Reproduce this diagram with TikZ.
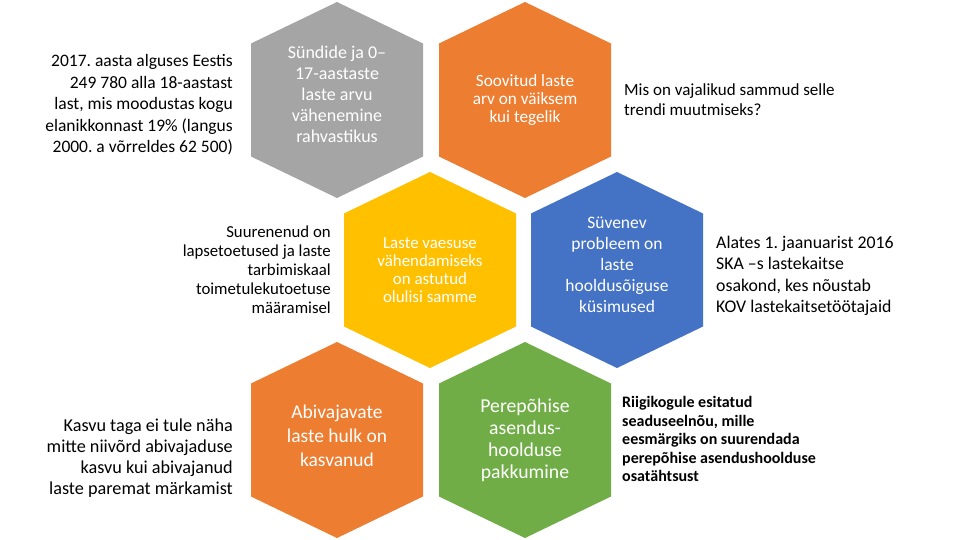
\documentclass[tikz,border=0pt]{standalone}
\usepackage{fontspec}
\setmainfont{Carlito}
\frenchspacing
\definecolor{hgray}{HTML}{A5A5A5}
\definecolor{horange}{HTML}{ED7D31}
\definecolor{hyellow}{HTML}{FFC000}
\definecolor{hblue}{HTML}{4472C4}
\definecolor{hgreen}{HTML}{70AD47}
\newcommand{\hexfill}[3]{\fill[#3] (#1,#2) ++(0,-98) -- ++(86,41.5) -- ++(0,113) -- ++(-86,41.5) -- ++(-86,-41.5) -- ++(0,-113) -- cycle;}
\tikzset{
  hextext/.style={text=white, align=center, inner sep=0pt},
  sidetext/.style={text=black, inner sep=0pt}
}
\begin{document}
\begin{tikzpicture}[x=1pt,y=-1pt]
\useasboundingbox (0,0) rectangle (960,540);
\fill[white] (0,0) rectangle (960,540);
\hexfill{337}{100}{hgray}
\hexfill{525}{100}{horange}
\hexfill{430}{270}{hyellow}
\hexfill{617}{270}{hblue}
\hexfill{337}{440}{horange}
\hexfill{525}{440}{hgreen}

\node[hextext, font=\fontsize{18}{21}\selectfont] (g) at (337,94) {Sündide ja 0--\\17-aastaste\\laste arvu\\vähenemine\\rahvastikus};
\node[hextext, font=\fontsize{17.2}{18}\selectfont] (o1) at (525,100) {Soovitud laste\\arv on väiksem\\kui tegelik};
\node[hextext, font=\fontsize{16.9}{18}\selectfont] (y) at (430,270) {Laste vaesuse\\vähendamiseks\\on astutud\\olulisi samme};
\node[hextext, font=\fontsize{17.5}{21}\selectfont] (b) at (617,265) {Süvenev\\probleem on\\laste\\hooldusõiguse\\küsimused};
\node[hextext, font=\fontsize{19.5}{24}\selectfont] (o2) at (337,436) {Abivajavate\\laste hulk on\\kasvanud};
\node[hextext, font=\fontsize{19.7}{22}\selectfont] (gr) at (525,440) {Perepõhise\\asendus-\\hoolduse\\pakkumine};

\node[sidetext, anchor=east, align=right, font=\fontsize{17.5}{21.5}\selectfont] (t1) at (233,105) {2017. aasta alguses Eestis\\249 780 alla 18-aastast\\last, mis moodustas kogu\\elanikkonnast 19\% (langus\\2000. a võrreldes 62 500)};
\node[sidetext, anchor=east, align=right, font=\fontsize{16.8}{19}\selectfont] (t2) at (331,270) {Suurenenud on\\lapsetoetused ja laste\\tarbimiskaal\\toimetulekutoetuse\\määramisel};
\node[sidetext, anchor=east, align=right, font=\fontsize{18.2}{21}\selectfont] (t3) at (233,458) {Kasvu taga ei tule näha\\mitte niivõrd abivajaduse\\kasvu kui abivajanud\\laste paremat märkamist};
\node[sidetext, anchor=west, align=left, font=\fontsize{17}{20}\selectfont] (t4) at (624,100) {Mis on vajalikud sammud selle\\trendi muutmiseks?};
\node[sidetext, anchor=west, align=left, font=\fontsize{17.8}{21.5}\selectfont] (t5) at (716,276) {Alates 1. jaanuarist 2016\\SKA --s lastekaitse\\osakond, kes nõustab\\KOV lastekaitsetöötajaid};
\node[sidetext, anchor=west, align=left, font=\bfseries\fontsize{16}{18.5}\selectfont] (t6) at (622,439) {Riigikogule esitatud\\seaduseelnõu, mille\\eesmärgiks on suurendada\\perepõhise asendushoolduse\\osatähtsust};
\end{tikzpicture}
\end{document}
